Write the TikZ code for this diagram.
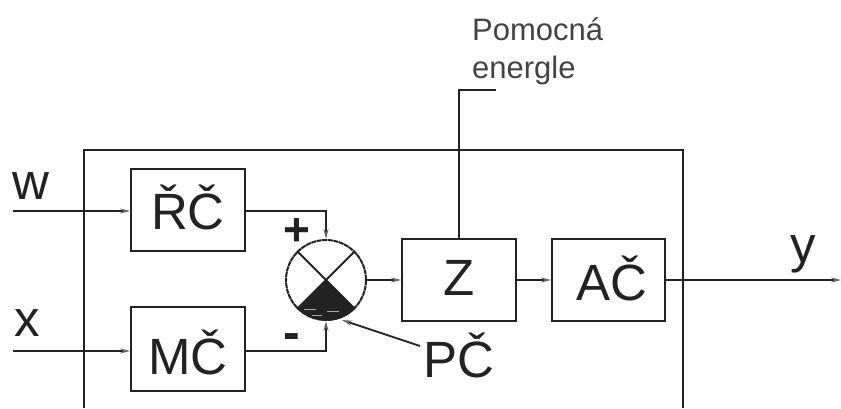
\documentclass[tikz,border=0pt]{standalone}
\usepackage{fontspec}
\setmainfont{Liberation Sans}
\usetikzlibrary{arrows.meta,calc}
\definecolor{ink}{HTML}{222222}
\tikzset{
  lin/.style={draw=ink,line width=1.8pt},
  flow/.style={lin,-{Stealth[length=10pt,width=5pt,color=ink!70]}},
  block/.style={lin,fill=white,inner sep=0pt,minimum width=114pt,minimum height=82pt,font=\fontsize{51}{51}\selectfont,text=ink,anchor=center},
  lab/.style={inner sep=0pt,anchor=base,text=ink},
  biglab/.style={lab,font=\fontsize{51}{51}\selectfont},
  smalllab/.style={lab,anchor=base west,font=\fontsize{31}{31}\selectfont,text=ink!85}
}
\begin{document}
\begin{tikzpicture}[x=1pt,y=-1pt]
\useasboundingbox (0,0) rectangle (841,408);
% outer frame
\draw[lin] (84,408) -- (84,150) -- (683,150) -- (683,408);
% blocks
\node[block,text height=38pt,text depth=0pt] (rc) at (188,210) {ŘČ};
\node[block,text height=50pt,text depth=0pt,minimum height=84pt] (mc) at (188,349) {MČ};
\node[block,text height=30pt,text depth=0pt] (z) at (459,280) {Z};
\node[block,minimum width=113pt,text height=40pt,text depth=0pt] (ac) at (608.5,280) {\hspace*{6pt}AČ};
% summing junction
\node[circle,lin,line width=2pt,dashed,dash pattern=on 5pt off 0.6pt,minimum size=80pt,inner sep=0pt] (sum) at (326,280) {};
\fill[ink] (sum.center) -- (sum.-45) arc[start angle=-45,end angle=-135,radius=40pt] -- cycle;
\draw[lin] (sum.45) -- (sum.-135);
\draw[lin] (sum.135) -- (sum.-45);
\draw[gray!70,line width=1pt] (304,309.5) -- (316,309.5) (327,311) -- (339,311) (312,315) -- (322,315);
% free ends
\coordinate (win) at (13,211);
\coordinate (xin) at (13,351);
\coordinate (yout) at (841,280);
\coordinate (auxa) at (459,90);
\coordinate (auxb) at (496,90);
\coordinate (pctip) at (342,320);
\coordinate (pcend) at (420,346);
% connectors
\draw[flow] (win) -- (rc.west |- win);
\draw[flow] (xin) -- (mc.west |- xin);
\draw[flow] (rc.east |- win) -| (sum.north);
\draw[flow] (mc.east |- xin) -| (sum.south);
\draw[flow] (sum.east) -- (z.west);
\draw[flow] (z.east) -- (ac.west);
\draw[flow] (ac.east) -- (yout);
\draw[lin] (z.north) -- (auxa) -- (auxb);
\draw[flow] (pcend) -- (pctip);
% labels
\node[biglab] (lw) at (31,199) {w};
\node[biglab] (lx) at (27,336) {x};
\node[biglab] (ly) at (803,262) {y};
\node[biglab] (lpc) at (459,377) {PČ};
\node[lab,font=\bfseries\fontsize{46}{46}\selectfont] (plus) at (297,245) {+};
\node[lab,font=\bfseries\fontsize{50}{50}\selectfont] (minus) at (292,349) {-};
\node[smalllab] (p1) at (472,40) {Pomocná};
\node[smalllab] (p2) at (472,78) {energle};
\end{tikzpicture}
\end{document}
